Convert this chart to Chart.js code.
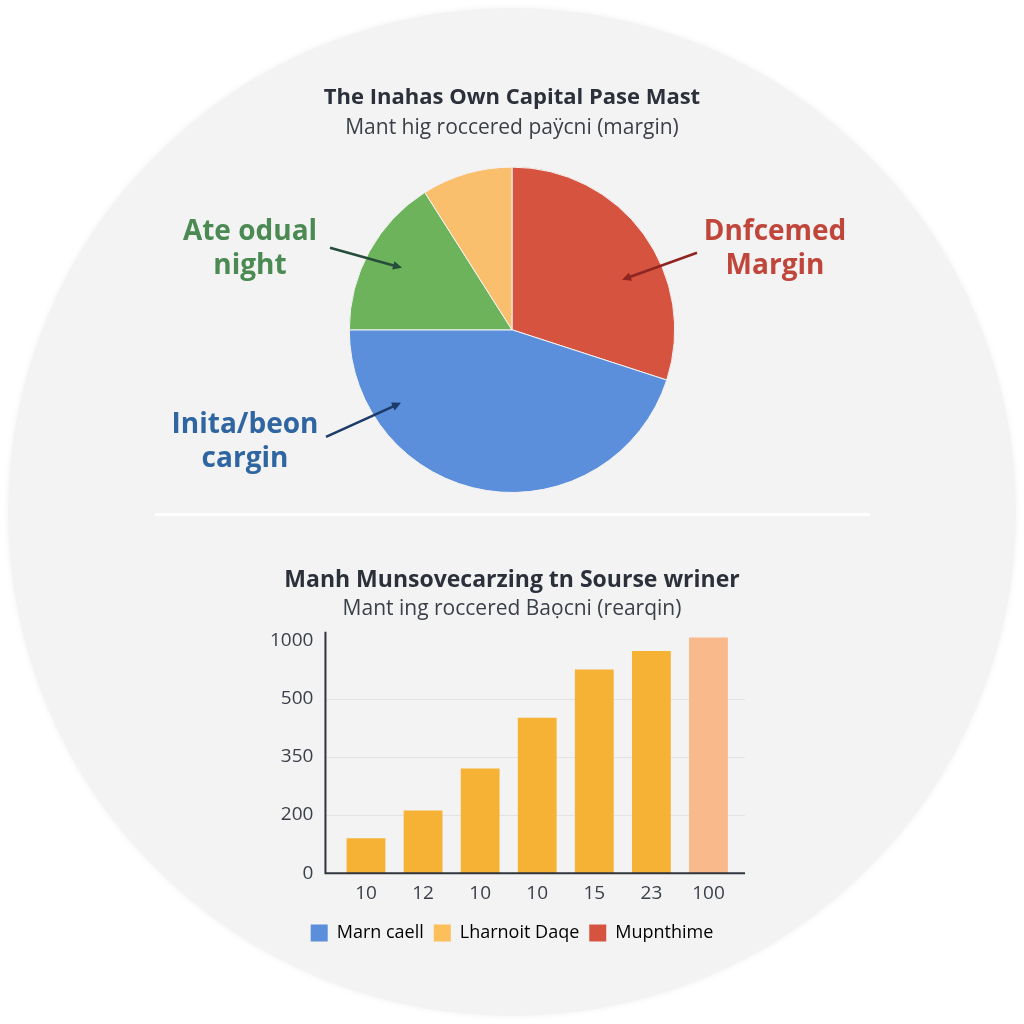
<!DOCTYPE html>
<html>
<head>
<meta charset="utf-8">
<script src="https://cdn.jsdelivr.net/npm/chart.js@4.4.1/dist/chart.umd.min.js"></script>
<style>
  html, body { margin: 0; padding: 0; background: #ffffff; }
  body { width: 1024px; height: 1024px; position: relative; overflow: hidden; font-family: "Open Sans", sans-serif; }
  #disc { position: absolute; left: 8px; top: 8px; width: 1008px; height: 1008px; border-radius: 50%; background: #f3f3f3; box-shadow: 0 0 6px rgba(0,0,0,0.06); }
  #divider { position: absolute; left: 155px; top: 513px; width: 715px; height: 3px; background: #ffffff; }
  #pie-wrap { position: absolute; left: 150px; top: 70px; width: 724px; height: 430px; }
  #bar-wrap { position: absolute; left: 246px; top: 555px; width: 532px; height: 400px; }
</style>
</head>
<body>
<div id="disc"></div>
<div id="divider"></div>
<div id="pie-wrap"><canvas id="pieChart" width="724" height="430"></canvas></div>
<div id="bar-wrap"><canvas id="barChart" width="532" height="400"></canvas></div>
<script>
// pie data (clockwise from 12 o'clock)
const pieLabels = ['Dnfcemed Margin', 'Inita/beon cargin', 'Ate odual night', ''];
const pieValues = [30, 45, 16, 9];
const pieColors = ['#d6533f', '#5b8edb', '#6cb35b', '#f9bf6c'];

// bar data
const barLabels = ['10', '12', '10', '10', '15', '23', '100'];
const barValues = [120, 212, 320, 451, 750, 911, 1027];
const barColors = ['#f5b235', '#f5b235', '#f5b235', '#f5b235', '#f5b235', '#f5b235', '#f9b98a'];
const yTickLabels = [0, 200, 350, 500, 1000];

// legend of the bar chart
const legendNames = ['Marn caell', 'Lharnoit Daqe', 'Mupnthime'];
const legendColors = ['#5b8edb', '#fbbf5c', '#d6533f'];

const FONT = '"Open Sans", "Noto Sans", sans-serif';
const TITLE_COLOR = '#2b303a';
const TEXT_COLOR = '#3a3f48';

// the y axis is spaced evenly per tick label, so map a value onto tick index
function toTickIndex(v) {
  for (let i = 1; i < yTickLabels.length; i++) {
    if (v <= yTickLabels[i] || i === yTickLabels.length - 1) {
      const a = yTickLabels[i - 1], b = yTickLabels[i];
      return (i - 1) + (v - a) / (b - a);
    }
  }
  return 0;
}

// callouts around the pie: offsets from pie centre (px)
const callouts = [
  { slice: 0, lines: ['Dnfcemed', 'Margin'], color: '#c0463b', arrow: '#8e2522',
    tx: 263, ty: -98, from: [185, -77], to: [110, -50] },
  { slice: 2, lines: ['Ate odual', 'night'], color: '#4b8a52', arrow: '#264d3b',
    tx: -262, ty: -98, from: [-182, -82], to: [-110, -62] },
  { slice: 1, lines: ['Inita/beon', 'cargin'], color: '#2f66a2', arrow: '#1c3b68',
    tx: -267, ty: 95, from: [-186, 107], to: [-111, 73] }
];

function drawArrow(ctx, x1, y1, x2, y2, color) {
  const ang = Math.atan2(y2 - y1, x2 - x1);
  ctx.save();
  ctx.strokeStyle = color;
  ctx.fillStyle = color;
  ctx.lineWidth = 2.5;
  ctx.beginPath();
  ctx.moveTo(x1, y1);
  ctx.lineTo(x2 - Math.cos(ang) * 6, y2 - Math.sin(ang) * 6);
  ctx.stroke();
  ctx.beginPath();
  ctx.moveTo(x2, y2);
  ctx.lineTo(x2 - Math.cos(ang - 0.45) * 10, y2 - Math.sin(ang - 0.45) * 10);
  ctx.lineTo(x2 - Math.cos(ang + 0.45) * 10, y2 - Math.sin(ang + 0.45) * 10);
  ctx.closePath();
  ctx.fill();
  ctx.restore();
}

const calloutPlugin = {
  id: 'callouts',
  afterDraw(chart) {
    const arc = chart.getDatasetMeta(0).data[0];
    if (!arc) return;
    const cx = arc.x, cy = arc.y;
    const ctx = chart.ctx;
    callouts.forEach(c => {
      ctx.save();
      ctx.font = '700 28px ' + FONT;
      ctx.fillStyle = c.color;
      ctx.textAlign = 'center';
      ctx.textBaseline = 'middle';
      c.lines.forEach((ln, i) => ctx.fillText(ln, cx + c.tx, cy + c.ty + i * 34));
      ctx.restore();
      drawArrow(ctx, cx + c.from[0], cy + c.from[1], cx + c.to[0], cy + c.to[1], c.arrow);
    });
  }
};

// axis lines + grid drawn a little outside the plot area, like the reference
const axisPlugin = {
  id: 'axisLines',
  beforeDatasetsDraw(chart) {
    const { ctx, chartArea } = chart;
    const y = chart.scales.y;
    const left = chartArea.left - 12, right = chartArea.right + 8;
    ctx.save();
    ctx.strokeStyle = '#e3e3e3';
    ctx.lineWidth = 1;
    for (let i = 1; i < yTickLabels.length - 1; i++) {
      const py = Math.round(y.getPixelForValue(i)) + 0.5;
      ctx.beginPath();
      ctx.moveTo(left, py);
      ctx.lineTo(right, py);
      ctx.stroke();
    }
    ctx.restore();
  },
  afterDatasetsDraw(chart) {
    const { ctx, chartArea } = chart;
    const left = chartArea.left - 12, right = chartArea.right + 8;
    ctx.save();
    ctx.strokeStyle = '#30343c';
    ctx.lineWidth = 2;
    ctx.beginPath();
    ctx.moveTo(left, chartArea.top);
    ctx.lineTo(left, chartArea.bottom);
    ctx.lineTo(right, chartArea.bottom);
    ctx.stroke();
    ctx.restore();
  }
};

new Chart(document.getElementById('pieChart'), {
  type: 'pie',
  data: {
    labels: pieLabels,
    datasets: [{
      data: pieValues,
      backgroundColor: pieColors,
      borderColor: '#f3f3f3',
      borderWidth: 1
    }]
  },
  options: {
    responsive: false,
    animation: false,
    events: [],
    layout: { padding: { bottom: 7 } },
    plugins: {
      legend: { display: false },
      tooltip: { enabled: false },
      title: {
        display: true,
        text: 'The Inahas Own Capital Pase Mast',
        color: TITLE_COLOR,
        font: { family: FONT, size: 22, weight: '700' },
        padding: { top: 15, bottom: 4 }
      },
      subtitle: {
        display: true,
        text: 'Mant hig roccered paÿcni (margin)',
        color: TEXT_COLOR,
        font: { family: FONT, size: 21, weight: '400' },
        padding: { top: 0, bottom: 26 }
      }
    }
  },
  plugins: [calloutPlugin]
});

new Chart(document.getElementById('barChart'), {
  type: 'bar',
  data: {
    labels: barLabels,
    datasets: [{
      label: 'values',
      data: barValues.map(toTickIndex),
      backgroundColor: barColors,
      borderWidth: 0,
      barPercentage: 0.68,
      categoryPercentage: 1
    }]
  },
  options: {
    responsive: false,
    animation: false,
    events: [],
    layout: { padding: { left: 0, right: 0, bottom: 3 } },
    scales: {
      x: {
        grid: { display: false, drawTicks: false },
        border: { display: false },
        ticks: { color: TEXT_COLOR, font: { family: FONT, size: 19 }, padding: 9 }
      },
      y: {
        min: 0,
        max: 4.15,
        grid: { display: false, drawTicks: false },
        border: { display: false },
        ticks: {
          stepSize: 1,
          includeBounds: false,
          padding: 24,
          color: TEXT_COLOR,
          font: { family: FONT, size: 19 },
          callback: v => (Number.isInteger(v) && yTickLabels[v] !== undefined) ? String(yTickLabels[v]) : ''
        }
      },
      // empty right-hand spacer so the titles stay centred on the page
      spacer: {
        type: 'linear',
        position: 'right',
        display: true,
        grid: { display: false, drawTicks: false },
        border: { display: false },
        ticks: { display: false },
        afterFit: scale => { scale.width = 41; }
      }
    },
    plugins: {
      tooltip: { enabled: false },
      title: {
        display: true,
        text: 'Manh Munsovecarzing tn Sourse wriner',
        color: TITLE_COLOR,
        font: { family: FONT, size: 23, weight: '700' },
        padding: { top: 12, bottom: 2 }
      },
      subtitle: {
        display: true,
        text: 'Mant ing roccered Baọcni (rearqin)',
        color: TEXT_COLOR,
        font: { family: FONT, size: 21, weight: '400' },
        padding: { top: 0, bottom: 10 }
      },
      legend: {
        display: true,
        position: 'bottom',
        labels: {
          color: '#474c55',
          font: { family: FONT, size: 18 },
          boxWidth: 17,
          boxHeight: 17,
          padding: 10,
          generateLabels: () => legendNames.map((name, i) => ({
            text: name,
            fillStyle: legendColors[i],
            strokeStyle: legendColors[i],
            lineWidth: 0,
            hidden: false,
            datasetIndex: 0
          }))
        }
      }
    }
  },
  plugins: [axisPlugin]
});
</script>
</body>
</html>
